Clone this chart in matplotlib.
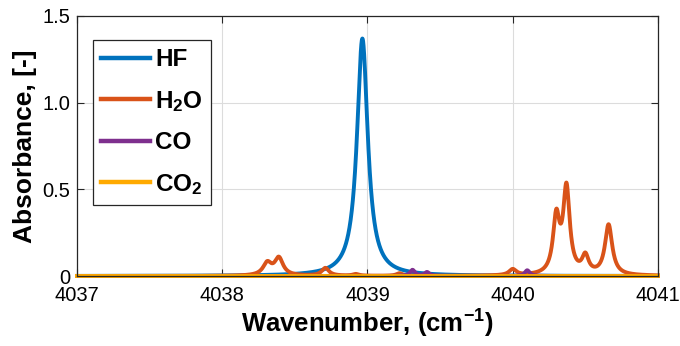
import numpy as np
import matplotlib
matplotlib.use('Agg')
import matplotlib.pyplot as plt

# Fuente tipo Arial y subindices en negrita
plt.rcParams['font.family'] = ['Liberation Sans', 'DejaVu Sans']
plt.rcParams['mathtext.fontset'] = 'custom'
plt.rcParams['mathtext.rm'] = 'Liberation Sans:bold'
plt.rcParams['mathtext.it'] = 'Liberation Sans:bold'
plt.rcParams['mathtext.bf'] = 'Liberation Sans:bold'

# Parametros de las lineas (centro, altura, semiancho)
hf_centros = [4038.965]
hf_alturas = [1.37]
hf_anchos = [0.045]

h2o_centros = [4038.31, 4038.39, 4038.71, 4038.92, 4039.22, 4040.00, 4040.30, 4040.37, 4040.50, 4040.66]
h2o_alturas = [0.07, 0.10, 0.045, 0.01, 0.015, 0.035, 0.32, 0.49, 0.10, 0.29]
h2o_anchos = [0.035, 0.035, 0.03, 0.025, 0.025, 0.03, 0.027, 0.027, 0.027, 0.03]

co_centros = [4039.31, 4039.41, 4040.10]
co_alturas = [0.035, 0.022, 0.033]
co_anchos = [0.02, 0.02, 0.02]

co2_centros = []
co2_alturas = []
co2_anchos = []

x_ticks = [4037, 4038, 4039, 4040, 4041]
y_ticks = [0, 0.5, 1.0, 1.5]
y_labels = ['0', '0.5', '1.0', '1.5']


def espectro(nu, centros, alturas, anchos):
    """Suma de perfiles de Lorentz."""
    a = np.zeros_like(nu)
    for c, h, g in zip(centros, alturas, anchos):
        a += h * g**2 / ((nu - c)**2 + g**2)
    return a


nu = np.linspace(4037, 4041, 4001)

fig = plt.figure(figsize=(6.8, 3.46), dpi=100)
ax = fig.add_axes([0.1132, 0.2023, 0.8544, 0.7515])

ax.plot(nu, espectro(nu, hf_centros, hf_alturas, hf_anchos), color='#0072BD', lw=2.8, label='HF', clip_on=False)
ax.plot(nu, espectro(nu, h2o_centros, h2o_alturas, h2o_anchos), color='#D95319', lw=2.8, label='H$_2$O', clip_on=False)
ax.plot(nu, espectro(nu, co_centros, co_alturas, co_anchos), color='#7E2F8E', lw=2.8, label='CO', clip_on=False)
ax.plot(nu, espectro(nu, co2_centros, co2_alturas, co2_anchos), color='#FFAA00', lw=2.8, label='CO$_2$', clip_on=False)

ax.set_xlim(4037, 4041)
ax.set_ylim(0, 1.5)
ax.set_xticks(x_ticks)
ax.set_yticks(y_ticks)
ax.set_yticklabels(y_labels)
ax.tick_params(direction='in', length=5, width=0.8, top=True, right=True,
               labelsize=14.5, colors='#262626', labelcolor='black')
ax.tick_params(axis='x', pad=7)
ax.tick_params(axis='y', pad=5)
ax.grid(True, color='#DCDCDC', lw=0.8)
ax.set_axisbelow(True)
for s in ax.spines.values():
    s.set_color('#262626')
    s.set_linewidth(0.9)

ax.set_xlabel('Wavenumber, (cm$^{-1}$)', fontsize=18.5, fontweight='bold', labelpad=2)
ax.set_ylabel('Absorbance, [-]', fontsize=19, fontweight='bold', labelpad=4)

leg = ax.legend(loc='upper left', bbox_to_anchor=(0.0275, 0.908), borderaxespad=0,
                prop={'size': 17.5, 'weight': 'bold'}, handlelength=2.0, handletextpad=0.2,
                labelspacing=0.72, fancybox=False, framealpha=1, edgecolor='#262626',
                borderpad=0.35)
leg.get_frame().set_linewidth(0.9)
for l in leg.get_lines():
    l.set_linewidth(3.2)

fig.savefig('out.png', dpi=100)
